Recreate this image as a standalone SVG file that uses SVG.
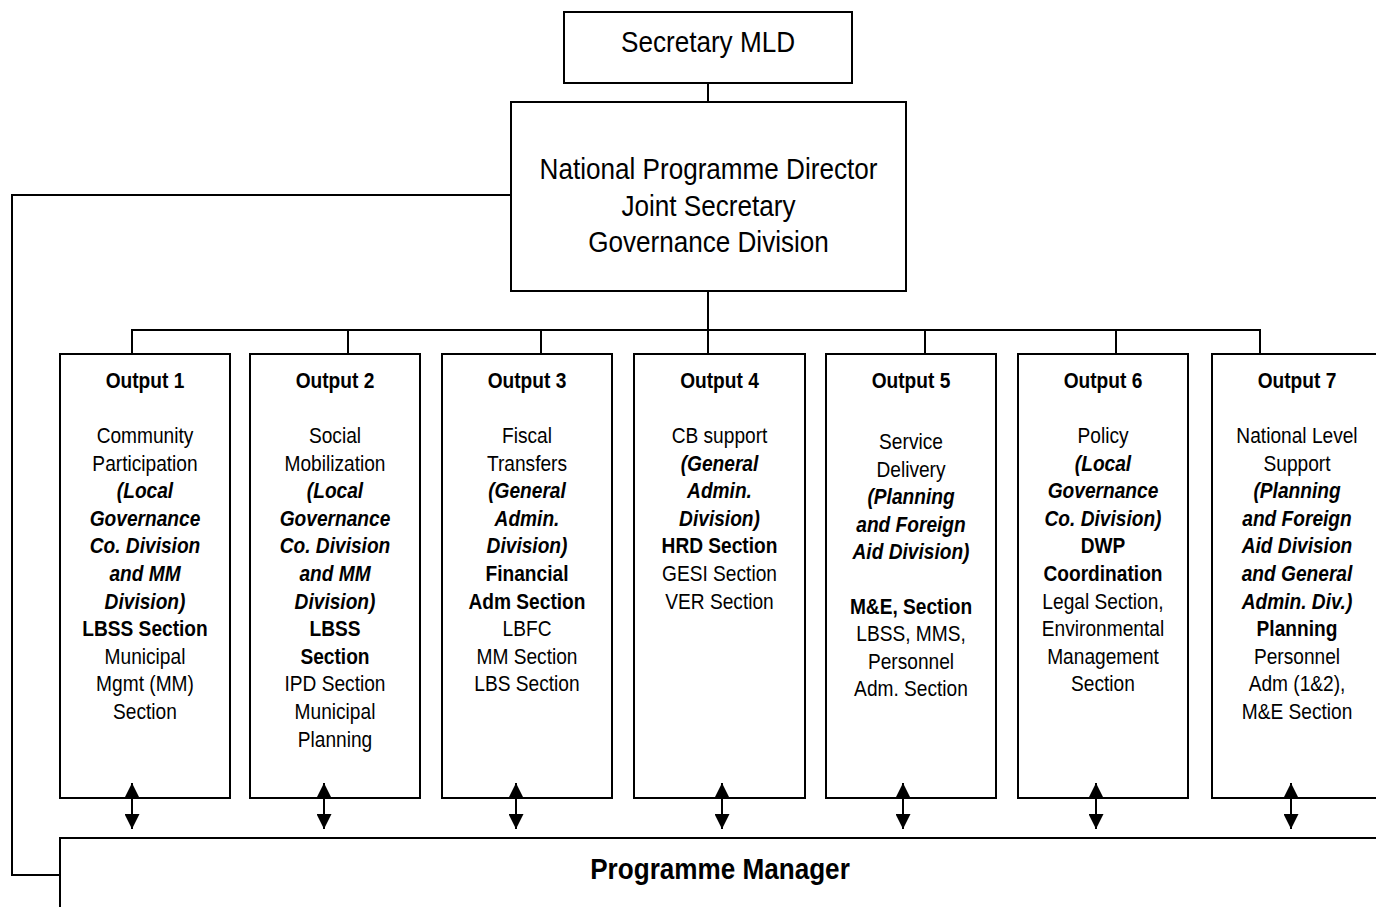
<svg xmlns="http://www.w3.org/2000/svg" width="1376" height="907" viewBox="0 0 1376 907">
  <style>
    .box{fill:#fff;stroke:#000;stroke-width:2}
    .ln{fill:none;stroke:#000;stroke-width:2}
    .arr{fill:none;stroke:#000;stroke-width:2;marker-start:url(#head);marker-end:url(#head)}
    text{font-family:"Liberation Sans",Arial,Helvetica,sans-serif;fill:#000;text-anchor:middle}
    .big{font-size:30px}
    .t{font-size:22px}
    .b{font-weight:bold}
    .bi{font-weight:bold;font-style:italic}
  </style>
  <defs>
    <marker id="head" viewBox="0 0 15 15" refX="15" refY="7.5" markerWidth="15" markerHeight="15" markerUnits="userSpaceOnUse" orient="auto-start-reverse">
      <path d="M0,0 L15,7.5 L0,15 Z" fill="#000"/>
    </marker>
  </defs>
  <rect width="1376" height="907" fill="#fff"/>

  <!-- top level -->
  <g id="secretary">
    <rect class="box" x="564" y="12" width="288" height="71"/>
    <g transform="translate(708 0) scale(0.87 1)">
      <text class="big" y="52">Secretary MLD</text>
    </g>
  </g>

  <g id="npd">
    <rect class="box" x="511" y="102" width="395" height="189"/>
    <g transform="translate(708.5 0) scale(0.87 1)">
      <text class="big" y="179">National Programme Director</text>
      <text class="big" y="216">Joint Secretary</text>
      <text class="big" y="252">Governance Division</text>
    </g>
  </g>

  <!-- output columns -->
  <g id="output1">
    <rect class="box" x="60" y="354" width="170" height="444"/>
    <g class="t" transform="translate(145 0) scale(0.87 1)">
      <text class="b" y="388">Output 1</text>
      <text y="443">Community</text>
      <text y="470.6">Participation</text>
      <text class="bi" y="498.2">(Local</text>
      <text class="bi" y="525.8">Governance</text>
      <text class="bi" y="553.4">Co. Division</text>
      <text class="bi" y="581">and MM</text>
      <text class="bi" y="608.6">Division)</text>
      <text class="b" y="636.2">LBSS Section</text>
      <text y="663.8">Municipal</text>
      <text y="691.4">Mgmt (MM)</text>
      <text y="719">Section</text>
    </g>
  </g>

  <g id="output2">
    <rect class="box" x="250" y="354" width="170" height="444"/>
    <g class="t" transform="translate(335 0) scale(0.87 1)">
      <text class="b" y="388">Output 2</text>
      <text y="443">Social</text>
      <text y="470.6">Mobilization</text>
      <text class="bi" y="498.2">(Local</text>
      <text class="bi" y="525.8">Governance</text>
      <text class="bi" y="553.4">Co. Division</text>
      <text class="bi" y="581">and MM</text>
      <text class="bi" y="608.6">Division)</text>
      <text class="b" y="636.2">LBSS</text>
      <text class="b" y="663.8">Section</text>
      <text y="691.4">IPD Section</text>
      <text y="719">Municipal</text>
      <text y="746.6">Planning</text>
    </g>
  </g>

  <g id="output3">
    <rect class="box" x="442" y="354" width="170" height="444"/>
    <g class="t" transform="translate(527 0) scale(0.87 1)">
      <text class="b" y="388">Output 3</text>
      <text y="443">Fiscal</text>
      <text y="470.6">Transfers</text>
      <text class="bi" y="498.2">(General</text>
      <text class="bi" y="525.8">Admin.</text>
      <text class="bi" y="553.4">Division)</text>
      <text class="b" y="581">Financial</text>
      <text class="b" y="608.6">Adm Section</text>
      <text y="636.2">LBFC</text>
      <text y="663.8">MM Section</text>
      <text y="691.4">LBS Section</text>
    </g>
  </g>

  <g id="output4">
    <rect class="box" x="634" y="354" width="171" height="444"/>
    <g class="t" transform="translate(719.5 0) scale(0.87 1)">
      <text class="b" y="388">Output 4</text>
      <text y="443">CB support</text>
      <text class="bi" y="470.6">(General</text>
      <text class="bi" y="498.2">Admin.</text>
      <text class="bi" y="525.8">Division)</text>
      <text class="b" y="553.4">HRD Section</text>
      <text y="581">GESI Section</text>
      <text y="608.6">VER Section</text>
    </g>
  </g>

  <g id="output5">
    <rect class="box" x="826" y="354" width="170" height="444"/>
    <g class="t" transform="translate(911 0) scale(0.87 1)">
      <text class="b" y="388">Output 5</text>
      <text y="449.5">Service</text>
      <text y="477">Delivery</text>
      <text class="bi" y="504.5">(Planning</text>
      <text class="bi" y="532">and Foreign</text>
      <text class="bi" y="559.5">Aid Division)</text>
      <text class="b" y="614">M&amp;E, Section</text>
      <text y="641.5">LBSS, MMS,</text>
      <text y="669">Personnel</text>
      <text y="696.5">Adm. Section</text>
    </g>
  </g>

  <g id="output6">
    <rect class="box" x="1018" y="354" width="170" height="444"/>
    <g class="t" transform="translate(1103 0) scale(0.87 1)">
      <text class="b" y="388">Output 6</text>
      <text y="443">Policy</text>
      <text class="bi" y="470.6">(Local</text>
      <text class="bi" y="498.2">Governance</text>
      <text class="bi" y="525.8">Co. Division)</text>
      <text class="b" y="553.4">DWP</text>
      <text class="b" y="581">Coordination</text>
      <text y="608.6">Legal Section,</text>
      <text y="636.2">Environmental</text>
      <text y="663.8">Management</text>
      <text y="691.4">Section</text>
    </g>
  </g>

  <g id="output7">
    <rect class="box" x="1212" y="354" width="172" height="444"/>
    <g class="t" transform="translate(1297 0) scale(0.87 1)">
      <text class="b" y="388">Output 7</text>
      <text y="443">National Level</text>
      <text y="470.6">Support</text>
      <text class="bi" y="498.2">(Planning</text>
      <text class="bi" y="525.8">and Foreign</text>
      <text class="bi" y="553.4">Aid Division</text>
      <text class="bi" y="581">and General</text>
      <text class="bi" y="608.6">Admin. Div.)</text>
      <text class="b" y="636.2">Planning</text>
      <text y="663.8">Personnel</text>
      <text y="691.4">Adm (1&amp;2),</text>
      <text y="719">M&amp;E Section</text>
    </g>
  </g>

  <!-- bottom bar -->
  <g id="programme-manager">
    <rect class="box" x="60" y="838" width="1400" height="200"/>
    <g transform="translate(720 0) scale(0.87 1)">
      <text class="big b" y="879">Programme Manager</text>
    </g>
  </g>

  <!-- connectors -->
  <g id="connectors">
    <line class="ln" x1="708" y1="83" x2="708" y2="102"/>
    <line class="ln" x1="708" y1="291" x2="708" y2="330"/>
    <path class="ln" d="M132,354 V330 H1260 V354"/>
    <line class="ln" x1="348" y1="330" x2="348" y2="354"/>
    <line class="ln" x1="541" y1="330" x2="541" y2="354"/>
    <line class="ln" x1="708" y1="330" x2="708" y2="354"/>
    <line class="ln" x1="925" y1="330" x2="925" y2="354"/>
    <line class="ln" x1="1116" y1="330" x2="1116" y2="354"/>
    <path class="ln" d="M511,195 H12 V875 H60"/>
    <line class="arr" x1="132" y1="783" x2="132" y2="829"/>
    <line class="arr" x1="324" y1="783" x2="324" y2="829"/>
    <line class="arr" x1="516" y1="783" x2="516" y2="829"/>
    <line class="arr" x1="722" y1="783" x2="722" y2="829"/>
    <line class="arr" x1="903" y1="783" x2="903" y2="829"/>
    <line class="arr" x1="1096" y1="783" x2="1096" y2="829"/>
    <line class="arr" x1="1291" y1="783" x2="1291" y2="829"/>
  </g>
</svg>
